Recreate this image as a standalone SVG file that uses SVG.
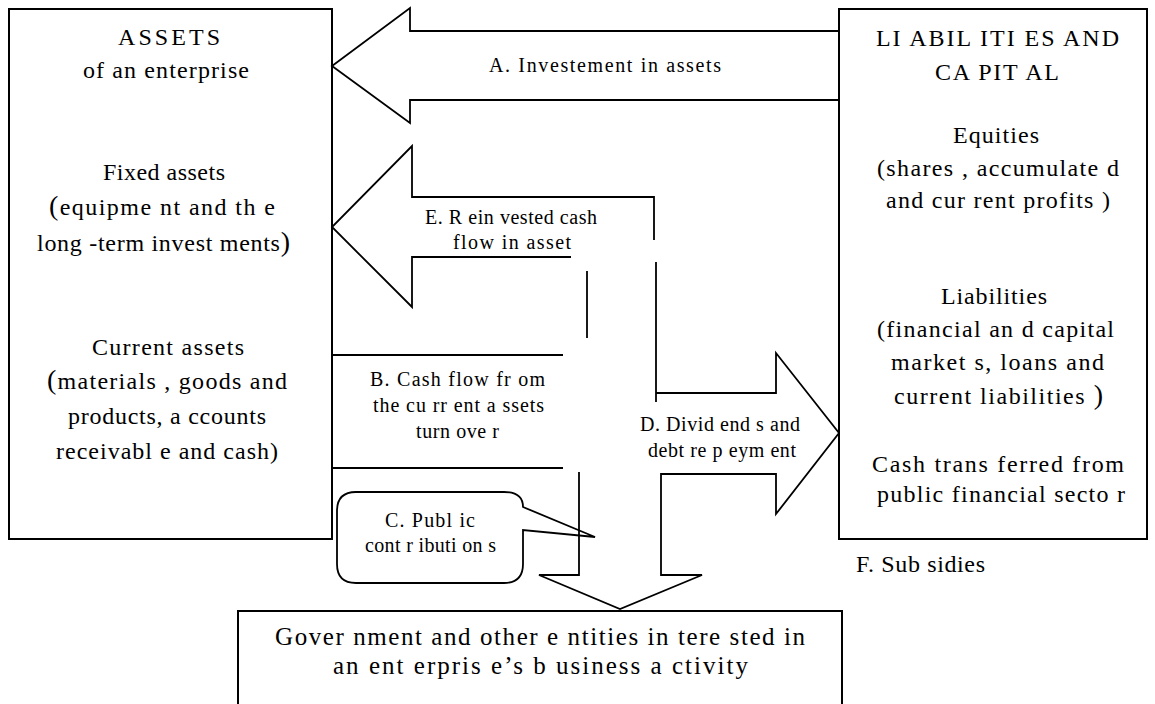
<svg xmlns="http://www.w3.org/2000/svg" width="1155" height="704" viewBox="0 0 1155 704">
<style>
.box{fill:none;stroke:#000;stroke-width:2}
.ln{fill:none;stroke:#000;stroke-width:1.8;stroke-linejoin:miter}
.t{font-family:"Liberation Serif","Times New Roman",serif;font-size:24px;fill:#000}
.s{font-family:"Liberation Serif","Times New Roman",serif;font-size:20px;fill:#000}
.g{font-family:"Liberation Serif","Times New Roman",serif;font-size:25px;fill:#000}
.p{font-size:28px}
</style>
<rect width="1155" height="704" fill="#fff"/>
<g id="connectors">
<polyline class="ln" points="839,31 410,31 410,8 332,66 410,123 410,100 839,100"/>
<polyline class="ln" points="571,257 412,257 412,307 332,227 412,146 412,197 654,197 654,240"/>
<polyline class="ln" points="656,262 656,402"/>
<polyline class="ln" points="656,393 776,393 776,353 839,433 776,514 776,474 661,474 661,575 702,575 620,609 539,575 579,575 579,472"/>
<polyline class="ln" points="587,271 587,338"/>
<polyline class="ln" points="332,355 563,355"/>
<polyline class="ln" points="332,468 563,468"/>
<text class="s" x="489" y="72" textLength="232" lengthAdjust="spacing">A. Investement in assets</text>
<text class="s" x="425" y="224" textLength="172" lengthAdjust="spacing">E. R ein vested cash</text>
<text class="s" x="453" y="249" textLength="118" lengthAdjust="spacing">flow in asset</text>
<text class="s" x="370" y="386" textLength="175" lengthAdjust="spacing">B. Cash flow fr om</text>
<text class="s" x="373" y="412" textLength="171" lengthAdjust="spacing">the cu rr ent a ssets</text>
<text class="s" x="416" y="438" textLength="83" lengthAdjust="spacing">turn ove r</text>
<text class="s" x="640" y="431" textLength="160" lengthAdjust="spacing">D. Divid end s and</text>
<text class="s" x="648" y="457" textLength="148" lengthAdjust="spacing">debt re p eym ent</text>
</g>
<g id="assets">
<rect class="box" x="9" y="9" width="323" height="530"/>
<text class="t" x="118" y="45" textLength="102" lengthAdjust="spacing">ASSETS</text>
<text class="t" x="83" y="78" textLength="166" lengthAdjust="spacing">of an enterprise</text>
<text class="t" x="103" y="180" textLength="122" lengthAdjust="spacing">Fixed assets</text>
<text class="t" x="49" y="215" textLength="226" lengthAdjust="spacing"><tspan class="p">(</tspan>equipme nt and th e</text>
<text class="t" x="37" y="251" textLength="253" lengthAdjust="spacing">long -term invest ments<tspan class="p">)</tspan></text>
<text class="t" x="92" y="355" textLength="152" lengthAdjust="spacing">Current  assets</text>
<text class="t" x="47" y="389" textLength="240" lengthAdjust="spacing"><tspan class="p">(</tspan>materials , goods and</text>
<text class="t" x="68" y="424" textLength="198" lengthAdjust="spacing">products, a ccounts</text>
<text class="t" x="56" y="459" textLength="222" lengthAdjust="spacing">receivabl e and cash)</text>
</g>
<g id="liabilities">
<rect class="box" x="839" y="9" width="308" height="530"/>
<text class="t" x="876" y="46" textLength="243" lengthAdjust="spacing">LI ABIL ITI ES AND</text>
<text class="t" x="935" y="80" textLength="124" lengthAdjust="spacing">CA PIT AL</text>
<text class="t" x="953" y="143" textLength="86" lengthAdjust="spacing">Equities</text>
<text class="t" x="877" y="176" textLength="242" lengthAdjust="spacing">(shares , accumulate d</text>
<text class="t" x="886" y="208" textLength="224" lengthAdjust="spacing">and cur rent profits )</text>
<text class="t" x="941" y="304" textLength="106" lengthAdjust="spacing">Liabilities</text>
<text class="t" x="877" y="337" textLength="237" lengthAdjust="spacing">(financial an d capital</text>
<text class="t" x="891" y="370" textLength="213" lengthAdjust="spacing">market s, loans and</text>
<text class="t" x="894" y="404" textLength="209" lengthAdjust="spacing">current liabilities <tspan class="p">)</tspan></text>
<text class="t" x="872" y="472" textLength="252" lengthAdjust="spacing">Cash trans ferred from</text>
<text class="t" x="877" y="502" textLength="248" lengthAdjust="spacing">public financial secto r</text>
</g>
<g id="subsidies">
<text class="t" x="856" y="572" textLength="129" lengthAdjust="spacing">F. Sub sidies</text>
</g>
<g id="public-contributions">
<path class="ln" fill="#fff" d="M356,492 H504 Q523,492 523,507 L595,537 L523,530 V564 Q523,583 504,583 H356 Q337,583 337,564 V511 Q337,492 356,492 Z"/>
<text class="s" x="385" y="527" textLength="90" lengthAdjust="spacing">C. Publ ic</text>
<text class="s" x="365" y="552" textLength="131" lengthAdjust="spacing">cont r ibuti on s</text>
</g>
<g id="government">
<polyline class="box" points="238,710 238,611 842,611 842,710"/>
<text class="g" x="275" y="645" textLength="530" lengthAdjust="spacing">Gover nment and other e ntities in tere sted in</text>
<text class="g" x="333" y="674" textLength="415" lengthAdjust="spacing">an ent erpris e’s b usiness a ctivity</text>
</g>
</svg>
